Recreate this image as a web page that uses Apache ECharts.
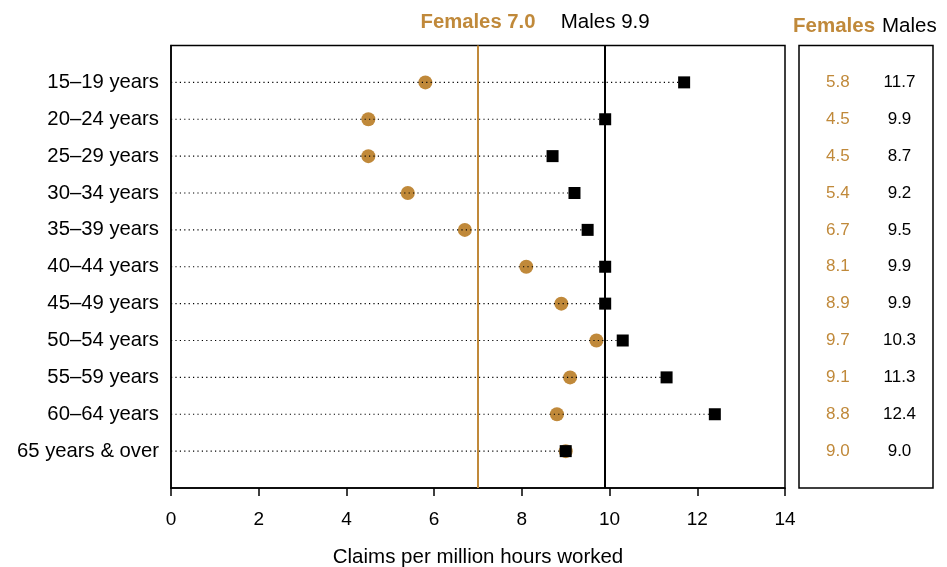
<!DOCTYPE html>
<html>
<head>
<meta charset="utf-8">
<script src="https://cdn.jsdelivr.net/npm/echarts@6/dist/echarts.min.js"></script>
<style>html,body{margin:0;padding:0;background:#fff;}#c{width:947px;height:567px;}</style>
</head>
<body>
<div id="c"></div>
<script>
const categories = ['15–19 years','20–24 years','25–29 years','30–34 years','35–39 years','40–44 years','45–49 years','50–54 years','55–59 years','60–64 years','65 years & over'];
const females = [5.8,4.5,4.5,5.4,6.7,8.1,8.9,9.7,9.1,8.8,9.0];
const males = [11.7,9.9,8.7,9.2,9.5,9.9,9.9,10.3,11.3,12.4,9.0];
const femaleAvg = 7.0;
const maleAvg = 9.9;
const xTicks = [0,2,4,6,8,10,12,14];

const GOLD = '#C0893A';
const FONT = '"Liberation Sans", Arial, sans-serif';

const chart = echarts.init(document.getElementById('c'));
const femaleData = females.map((v,i)=>[v, i+1]);
const maleData = males.map((v,i)=>[v, i+1]);
const lineData = categories.map((c,i)=>[Math.max(females[i], males[i]), i+1]);

chart.setOption({
  animation: false,
  textStyle: {fontFamily: FONT},
  grid: [
    {left: 171, top: 45.5, width: 614, height: 442.5, outerBoundsMode: 'none', containLabel: false, show: true, borderColor: '#000', borderWidth: 1.5, backgroundColor: 'transparent'},
    {left: 799, top: 45.5, width: 134, height: 442.5, outerBoundsMode: 'none', containLabel: false, show: true, borderColor: '#000', borderWidth: 1.5, backgroundColor: 'transparent'}
  ],
  xAxis: [
    {gridIndex: 0, type: 'value', position: 'bottom', min: xTicks[0], max: xTicks[xTicks.length-1], interval: 2,
     axisLine: {show: true, onZero: false, lineStyle: {color: '#000', width: 1.5}},
     axisTick: {show: true, length: 8, lineStyle: {color: '#000', width: 1.5}},
     axisLabel: {color: '#000', fontSize: 19, margin: 22, fontFamily: FONT},
     splitLine: {show: false},
     name: 'Claims per million hours worked', nameLocation: 'middle', nameGap: 59,
     nameTextStyle: {color: '#000', fontSize: 20.5, fontFamily: FONT}},
    {gridIndex: 1, type: 'value', min: 0, max: 1, show: false}
  ],
  yAxis: [
    {gridIndex: 0, type: 'value', position: 'left', min: 0, max: 12, interval: 1, inverse: true,
     axisLine: {show: true, onZero: false, lineStyle: {color: '#000', width: 1.5}},
     axisTick: {show: false}, splitLine: {show: false},
     axisLabel: {color: '#000', fontSize: 20.3, margin: 12, fontFamily: FONT,
       formatter: v => (v >= 1 && v <= categories.length) ? categories[v-1] : ''}},
    {gridIndex: 1, type: 'value', min: 0, max: 12, inverse: true, show: false}
  ],
  graphic: [
    {type: 'text', left: 793, top: 16, style: {text: 'Females', fill: GOLD, font: 'bold 20.5px ' + FONT}},
    {type: 'text', left: 882, top: 16, style: {text: 'Males', fill: '#000', font: '20.5px ' + FONT}}
  ],
  series: [
    {type: 'scatter', xAxisIndex: 0, yAxisIndex: 0, data: femaleData, symbol: 'circle', symbolSize: 14,
     itemStyle: {color: GOLD, opacity: 1}, z: 2},
    {type: 'custom', xAxisIndex: 0, yAxisIndex: 0, data: lineData, z: 3,
     renderItem: (params, api) => {
       const p0 = api.coord([0, api.value(1)]);
       const p1 = api.coord([api.value(0), api.value(1)]);
       return {type: 'line', shape: {x1: p0[0], y1: p0[1], x2: p1[0], y2: p1[1]},
         style: {stroke: '#000', lineWidth: 1.2, lineDash: [1.2, 3.2]}};
     }},
    {type: 'scatter', xAxisIndex: 0, yAxisIndex: 0, data: maleData, symbol: 'rect', symbolSize: 12,
     itemStyle: {color: '#000', opacity: 1}, z: 5,
     markLine: {symbol: 'none', silent: true, animation: false, z: 4,
       data: [
         [{coord: [femaleAvg, 0], lineStyle: {color: GOLD, width: 2, type: 'solid'},
           label: {show: true, position: 'start', distance: 13, formatter: 'Females ' + femaleAvg.toFixed(1),
             color: GOLD, fontWeight: 'bold', fontSize: 20.3, fontFamily: FONT}},
          {coord: [femaleAvg, 12]}],
         [{coord: [maleAvg, 0], lineStyle: {color: '#000', width: 2, type: 'solid'},
           label: {show: true, position: 'start', distance: 13, formatter: 'Males ' + maleAvg.toFixed(1),
             color: '#000', fontSize: 20.5, fontFamily: FONT}},
          {coord: [maleAvg, 12]}]
       ]}},
    {type: 'scatter', xAxisIndex: 1, yAxisIndex: 1, symbolSize: 0, itemStyle: {opacity: 1},
     data: females.map((v,i)=>[0.29, i+1, v]),
     label: {show: true, position: 'inside', formatter: p => p.value[2].toFixed(1), color: GOLD, opacity: 1, fontSize: 17, fontFamily: FONT}},
    {type: 'scatter', xAxisIndex: 1, yAxisIndex: 1, symbolSize: 0, itemStyle: {opacity: 1},
     data: males.map((v,i)=>[0.75, i+1, v]),
     label: {show: true, position: 'inside', formatter: p => p.value[2].toFixed(1), color: '#000', opacity: 1, fontSize: 17, fontFamily: FONT}}
  ]
});
</script>
</body>
</html>
